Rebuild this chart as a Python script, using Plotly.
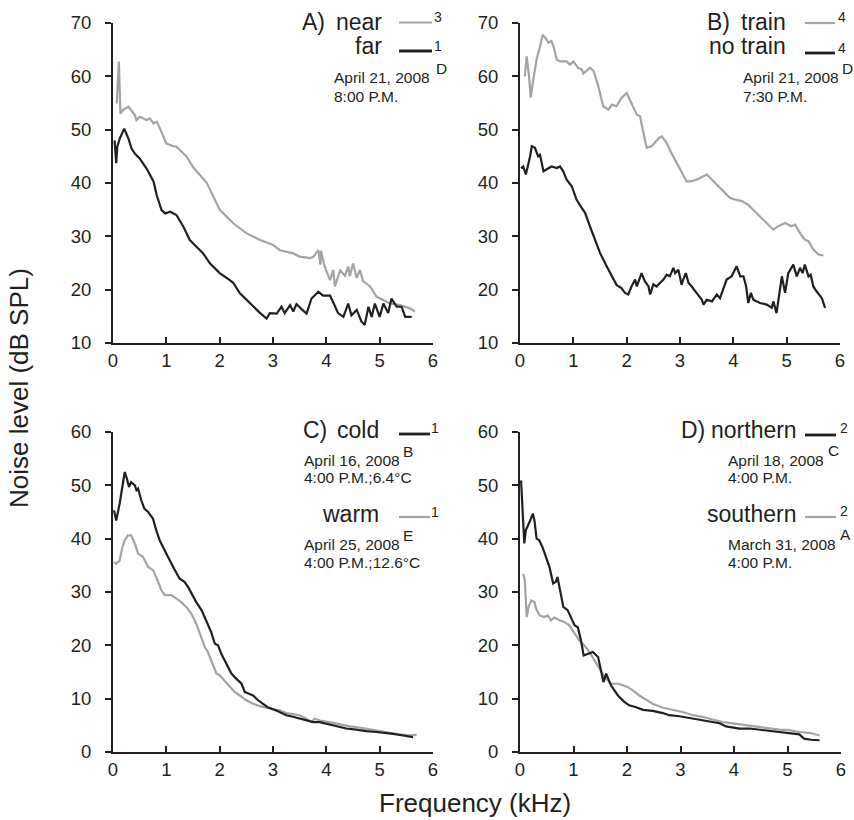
import plotly.graph_objects as go

# ---------------- data ----------------
# Panel A
a_near_x = [0.07,0.11,0.14,0.19,0.29,0.41,0.44,0.5,0.63,0.69,0.76,0.82,0.88,0.94,1.0,1.13,1.19,1.38,1.5,1.76,1.88,2.0,2.13,2.26,2.5,2.76,3.0,3.13,3.38,3.5,3.7,3.76,3.85,3.89,3.9,3.97,4.07,4.13,4.16,4.26,4.35,4.41,4.44,4.5,4.57,4.63,4.69,4.82,4.94,5.07,5.19,5.38,5.57,5.66]
a_near_y = [54.9,62.75,53.0,53.7,54.3,52.75,51.8,52.4,51.8,52.1,51.2,51.5,50.25,48.7,47.4,46.9,46.8,45.0,43.0,40.0,37.4,35.0,33.7,32.4,30.6,29.3,28.4,27.4,26.8,26.2,25.9,26.2,27.4,24.7,27.3,24.3,21.8,23.7,20.6,23.6,22.6,24.3,22.5,24.9,22.2,23.7,21.6,20.6,18.7,18.1,17.4,17.1,16.5,15.9]
a_far_x = [0.03,0.06,0.08,0.13,0.21,0.24,0.29,0.35,0.41,0.5,0.63,0.76,0.82,0.91,0.98,1.07,1.19,1.32,1.44,1.57,1.69,1.82,2.0,2.19,2.26,2.38,2.5,2.63,2.76,2.88,2.94,3.07,3.16,3.22,3.32,3.38,3.44,3.54,3.63,3.72,3.85,3.94,4.07,4.13,4.22,4.32,4.41,4.47,4.57,4.66,4.72,4.79,4.85,4.91,5.0,5.07,5.16,5.22,5.32,5.41,5.48,5.6]
a_far_y = [48.0,43.7,46.8,48.4,50.2,49.6,48.3,46.4,45.5,44.6,42.7,40.3,37.7,34.9,34.3,34.6,34.0,31.8,29.3,28.0,26.8,24.9,23.1,21.8,21.2,19.3,18.1,16.8,15.6,14.6,15.6,15.5,16.8,15.6,17.1,15.9,17.3,16.3,15.5,18.3,19.6,18.9,18.9,17.6,15.6,14.9,17.4,15.2,16.2,14.0,13.4,16.8,14.9,17.4,14.9,17.4,15.6,18.3,16.8,16.8,14.9,14.9]

# Panel B
b_train_x = [0.09,0.125,0.17,0.2,0.25,0.31,0.375,0.425,0.5,0.53,0.59,0.63,0.69,0.75,0.875,0.94,1.0,1.09,1.16,1.19,1.31,1.38,1.47,1.56,1.66,1.72,1.81,1.9,2.0,2.09,2.19,2.25,2.31,2.375,2.47,2.6,2.66,2.75,2.84,2.94,3.03,3.125,3.2,3.31,3.44,3.5,3.6,3.72,3.84,3.94,4.03,4.16,4.28,4.4,4.5,4.625,4.75,4.84,4.97,5.09,5.16,5.25,5.34,5.41,5.5,5.6,5.69]
b_train_y = [60.0,63.75,60.0,56.0,59.4,63.1,65.6,67.8,66.9,66.3,66.6,65.6,63.1,62.8,62.8,62.2,62.8,61.6,61.25,60.5,61.6,61.0,58.1,54.4,53.75,54.7,54.4,55.9,56.9,55.0,52.8,52.5,49.4,46.6,46.9,48.4,48.75,47.5,45.6,43.75,41.9,40.3,40.3,40.6,41.25,41.6,40.6,39.4,38.1,37.2,36.9,36.6,35.9,34.7,33.75,32.5,31.25,31.9,32.5,31.9,32.2,30.6,29.4,29.1,27.5,26.6,26.4]
b_none_x = [0.02,0.06,0.11,0.16,0.19,0.22,0.28,0.34,0.375,0.44,0.53,0.59,0.69,0.75,0.81,0.875,0.97,1.06,1.16,1.22,1.31,1.41,1.5,1.625,1.72,1.81,1.9,1.97,2.03,2.09,2.16,2.19,2.28,2.34,2.41,2.44,2.5,2.56,2.625,2.69,2.75,2.81,2.875,2.91,2.97,3.03,3.06,3.11,3.16,3.22,3.31,3.41,3.44,3.5,3.6,3.69,3.75,3.81,3.875,3.97,4.06,4.13,4.19,4.24,4.28,4.33,4.375,4.5,4.625,4.72,4.75,4.81,4.86,4.91,4.97,5.03,5.125,5.19,5.25,5.3,5.34,5.41,5.45,5.5,5.56,5.66,5.72]
b_none_y = [42.8,43.1,41.6,43.4,45.0,46.9,46.6,45.0,45.3,42.2,42.8,43.1,42.8,43.1,42.2,40.6,39.4,36.9,35.3,34.4,31.9,29.4,26.9,24.4,22.5,20.9,20.3,19.4,19.1,20.6,21.9,20.6,23.1,21.6,20.6,19.1,21.0,20.6,21.25,21.9,22.8,22.5,24.1,23.1,23.75,20.9,21.9,23.1,21.25,20.6,19.4,18.1,17.2,18.1,17.8,19.1,18.4,20.0,21.9,22.5,24.4,22.5,22.5,20.6,17.5,19.4,18.1,17.5,17.2,16.6,17.8,15.6,19.4,22.5,19.4,23.1,24.7,22.5,24.1,23.1,24.7,22.5,22.8,20.6,19.7,18.4,16.6]

# Panel C
c_cold_x = [0.02,0.06,0.125,0.175,0.22,0.26,0.3,0.34,0.41,0.44,0.47,0.53,0.59,0.66,0.72,0.75,0.81,0.875,0.97,1.06,1.16,1.25,1.34,1.41,1.47,1.56,1.66,1.75,1.84,1.91,1.97,2.03,2.125,2.22,2.31,2.41,2.47,2.56,2.625,2.72,2.81,2.9,3.06,3.25,3.375,3.5,3.625,3.75,3.875,4.0,4.125,4.25,4.375,4.56,4.75,4.94,5.125,5.25,5.44,5.625]
c_cold_y = [45.3,43.4,46.6,49.7,52.5,51.25,49.7,50.6,50.0,49.1,49.4,47.2,45.6,45.0,44.1,43.75,41.6,39.7,37.8,35.9,34.1,32.5,31.9,30.9,29.7,28.1,26.6,24.7,22.5,20.3,20.0,18.4,16.6,14.7,13.75,12.8,11.25,10.9,10.6,9.7,9.06,8.4,7.8,6.9,6.6,6.25,5.9,5.6,5.6,5.3,5.0,4.7,4.4,4.2,3.9,3.75,3.6,3.4,3.1,2.8]
c_warm_x = [0.02,0.06,0.125,0.175,0.22,0.28,0.34,0.41,0.47,0.56,0.66,0.75,0.81,0.91,0.97,1.09,1.19,1.28,1.375,1.47,1.56,1.625,1.72,1.78,1.84,1.94,2.0,2.09,2.19,2.28,2.375,2.5,2.625,2.75,2.875,3.0,3.125,3.25,3.375,3.5,3.625,3.72,3.78,3.875,4.06,4.25,4.44,4.625,4.81,5.0,5.19,5.375,5.56,5.69]
c_warm_y = [35.6,35.3,35.9,38.4,39.7,40.6,40.6,39.1,37.2,36.6,34.7,34.1,32.8,30.3,29.4,29.4,28.75,28.1,27.2,25.9,24.1,22.2,19.7,18.75,17.2,14.7,14.4,13.4,12.2,11.25,10.6,9.7,9.06,8.6,8.3,8.1,7.8,7.3,7.1,6.9,6.25,5.6,6.25,5.9,5.6,5.2,4.8,4.6,4.2,3.9,3.6,3.3,3.1,3.2]

# Panel D
d_north_x = [0.02,0.05,0.08,0.11,0.14,0.19,0.24,0.27,0.31,0.36,0.42,0.49,0.55,0.62,0.67,0.7,0.74,0.81,0.89,0.95,1.02,1.08,1.14,1.19,1.27,1.36,1.46,1.5,1.56,1.61,1.7,1.83,1.95,2.04,2.17,2.3,2.48,2.67,2.79,2.98,3.17,3.35,3.54,3.73,3.85,3.98,4.1,4.29,4.47,4.66,4.85,5.03,5.22,5.31,5.44,5.6]
d_north_y = [50.9,45.9,39.1,41.6,42.2,43.4,44.7,43.4,40.0,39.7,38.4,36.6,34.7,31.6,31.9,32.8,30.9,27.2,26.6,25.3,23.75,23.4,20.9,18.1,18.4,18.75,17.8,15.9,13.1,14.7,12.5,10.6,9.4,8.75,8.4,7.9,7.7,7.3,6.9,6.7,6.4,6.1,5.75,5.4,4.8,4.6,4.4,4.4,4.2,3.9,3.75,3.6,3.3,2.5,2.3,2.2]
d_south_x = [0.06,0.09,0.125,0.16,0.21,0.27,0.31,0.37,0.45,0.52,0.58,0.64,0.74,0.83,0.92,1.02,1.11,1.2,1.3,1.39,1.48,1.58,1.7,1.83,1.92,2.01,2.1,2.23,2.36,2.48,2.67,2.85,3.04,3.23,3.41,3.6,3.79,3.94,4.1,4.29,4.47,4.66,4.85,5.03,5.22,5.41,5.6]
d_south_y = [33.4,32.2,25.3,27.2,28.4,28.1,26.6,25.6,25.3,25.6,24.7,25.2,24.7,24.4,23.75,22.2,20.9,20.0,18.75,17.2,15.6,14.1,12.8,12.8,12.5,12.2,11.6,10.6,9.8,9.06,8.3,7.9,7.5,6.9,6.6,6.1,5.6,5.4,5.2,5.0,4.7,4.4,4.2,4.1,3.75,3.6,3.1]

x_ticks = [0, 1, 2, 3, 4, 5, 6]
y_ticks_top = [10, 20, 30, 40, 50, 60, 70]
y_ticks_bottom = [0, 10, 20, 30, 40, 50, 60]

x_title = "Frequency (kHz)"
y_title = "Noise level (dB SPL)"

# ---------------- figure ----------------
W, H = 854, 820
GRAY = "#a3a3a3"
BLACK = "#231f20"
FONT = "Liberation Sans, Arial, sans-serif"


def px(x):
    return x / W


def py(y):
    return 1 - y / H


fig = go.Figure()

panels = [
    ("x", "y", (113, 433), (23, 343), [10, 70], y_ticks_top,
     [(a_near_x, a_near_y, GRAY), (a_far_x, a_far_y, BLACK)]),
    ("x2", "y2", (520, 840), (23, 343), [10, 70], y_ticks_top,
     [(b_train_x, b_train_y, GRAY), (b_none_x, b_none_y, BLACK)]),
    ("x3", "y3", (113, 433), (432, 752), [0, 60], y_ticks_bottom,
     [(c_warm_x, c_warm_y, GRAY), (c_cold_x, c_cold_y, BLACK)]),
    ("x4", "y4", (520, 841), (432, 752), [0, 60], y_ticks_bottom,
     [(d_south_x, d_south_y, GRAY), (d_north_x, d_north_y, BLACK)]),
]

layout_axes = {}
for xa, ya, (x0, x1), (y0, y1), yr, yt, series in panels:
    for sx, sy, col in series:
        fig.add_trace(go.Scatter(x=sx, y=sy, mode="lines", xaxis=xa, yaxis=ya,
                                 line=dict(color=col, width=2.2), showlegend=False,
                                 hoverinfo="skip"))
    xkey = "xaxis" + xa[1:]
    ykey = "yaxis" + ya[1:]
    layout_axes[xkey] = dict(
        domain=[px(x0), px(x1)], range=[0, 6], anchor=ya, automargin=False,
        tickvals=x_ticks, ticks="inside", ticklen=6, tickwidth=2,
        tickcolor=BLACK, showline=True, linecolor=BLACK, linewidth=2,
        showgrid=False, zeroline=False, ticklabelstandoff=0,
        tickfont=dict(family=FONT, size=18.5, color=BLACK),
    )
    layout_axes[ykey] = dict(
        domain=[py(y1), py(y0)], range=yr, anchor=xa, automargin=False,
        tickvals=yt, ticks="outside", ticklen=6, tickwidth=2,
        tickcolor=BLACK, showline=True, linecolor=BLACK, linewidth=2,
        showgrid=False, zeroline=False, ticklabelstandoff=10,
        tickfont=dict(family=FONT, size=18.5, color=BLACK),
    )

annotations = []
shapes = []


def txt(s, x, y, size, xanchor="left"):
    annotations.append(dict(text=s, x=px(x), y=py(y), xref="paper", yref="paper",
                            xanchor=xanchor, yanchor="middle", showarrow=False,
                            font=dict(family=FONT, size=size, color=BLACK)))


def seg(x0, x1, y, color, w):
    shapes.append(dict(type="line", xref="paper", yref="paper",
                       x0=px(x0), x1=px(x1), y0=py(y), y1=py(y),
                       line=dict(color=color, width=w)))


BIG = 23
MID = 15.5
SUP = 14

# Panel A legend
txt("A)", 300, 22, BIG)
txt("near", 384, 22, BIG, "right")
txt("far", 384, 46, BIG, "right")
seg(399, 432, 22.5, GRAY, 2.2)
seg(399, 432, 51, BLACK, 2.8)
txt("3", 432, 17, SUP)
txt("1", 432, 46, SUP)
txt("April 21, 2008", 332, 78, MID)
txt("D", 434, 69, MID)
txt("8:00 P.M.", 332, 96, MID)

# Panel B legend
txt("B)", 705, 22, BIG)
txt("train", 788, 22, BIG, "right")
txt("no train", 788, 46, BIG, "right")
seg(805, 835, 23, GRAY, 2.2)
seg(805, 835, 53, BLACK, 2.8)
txt("4", 836, 17, SUP)
txt("4", 836, 48, SUP)
txt("April 21, 2008", 741, 78, MID)
txt("D", 840, 69, MID)
txt("7:30 P.M.", 741, 96, MID)

# Panel C legend
txt("C)", 301, 430, BIG)
txt("cold", 381, 430, BIG, "right")
seg(399, 430, 434, BLACK, 2.8)
txt("1", 429, 428, SUP)
txt("April 16, 2008", 302, 460, MID)
txt("B", 401, 451, MID)
txt("4:00 P.M.;6.4°C", 302, 478, MID)
txt("warm", 381, 514, BIG, "right")
seg(399, 430, 517, GRAY, 2.2)
txt("1", 429, 512, SUP)
txt("April 25, 2008", 302, 544, MID)
txt("E", 401, 535, MID)
txt("4:00 P.M.;12.6°C", 302, 562, MID)

# Panel D legend
txt("D)", 679, 430, BIG)
txt("northern", 799, 430, BIG, "right")
seg(805, 836, 435, BLACK, 2.8)
txt("2", 838, 428, SUP)
txt("April 18, 2008", 726, 460, MID)
txt("C", 826, 450, MID)
txt("4:00 P.M.", 726, 478, MID)
txt("southern", 799, 514, BIG, "right")
seg(805, 836, 517, GRAY, 2.2)
txt("2", 838, 511, SUP)
txt("March 31, 2008", 726, 544, MID)
txt("A", 838, 534, MID)
txt("4:00 P.M.", 726, 562, MID)

# Axis titles
annotations.append(dict(text=x_title, x=px(475), y=py(803), xref="paper", yref="paper",
                        xanchor="center", yanchor="middle", showarrow=False,
                        font=dict(family=FONT, size=26, color=BLACK)))
annotations.append(dict(text=y_title, x=px(19), y=py(388), xref="paper", yref="paper",
                        xanchor="center", yanchor="middle", showarrow=False, textangle=-90,
                        font=dict(family=FONT, size=26, color=BLACK)))

fig.update_layout(
    width=W, height=H,
    margin=dict(l=0, r=0, t=0, b=0, autoexpand=False),
    paper_bgcolor="white", plot_bgcolor="white",
    showlegend=False,
    annotations=annotations, shapes=shapes,
    **layout_axes,
)

fig.write_html(
    "out.html",
    config={"displayModeBar": False, "staticPlot": True},
    post_script="document.body.style.margin='0';document.body.style.overflow='hidden';",
)
